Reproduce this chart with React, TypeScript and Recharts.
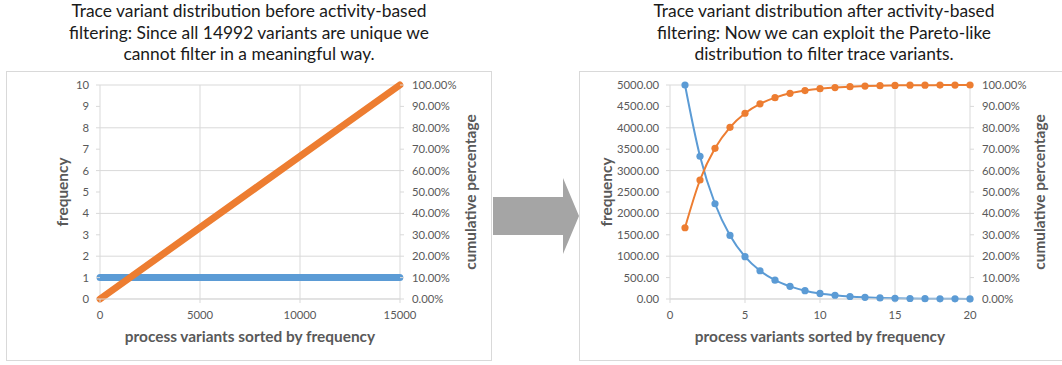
import { CartesianGrid, Label, Line, LineChart, XAxis, YAxis } from "recharts";

// Before filtering: every one of the 14992 variants occurs exactly once
const beforeRank = [1, 14992];
const beforeFrequency = [1, 1];
const beforeCumulative = [0.00007, 1.0];

// After activity-based filtering: top 20 variants
const afterRank = [1, 2, 3, 4, 5, 6, 7, 8, 9, 10, 11, 12, 13, 14, 15, 16, 17, 18, 19, 20];
const afterFrequency = [5000, 3335, 2225, 1485, 990, 660, 440, 295, 195, 130, 88, 58, 39, 26, 17, 12, 8, 5, 3, 2];
const afterCumulative = [
  0.333, 0.556, 0.704, 0.802, 0.868, 0.912, 0.941, 0.961, 0.974, 0.983,
  0.988, 0.992, 0.995, 0.997, 0.998, 0.999, 0.999, 0.9995, 0.9998, 1.0,
];

const beforeXTicks = [0, 5000, 10000, 15000];
const beforeYTicks = [0, 1, 2, 3, 4, 5, 6, 7, 8, 9, 10];
const afterXTicks = [0, 5, 10, 15, 20];
const afterYTicks = [0, 500, 1000, 1500, 2000, 2500, 3000, 3500, 4000, 4500, 5000];
const pctTicks = [0, 0.1, 0.2, 0.3, 0.4, 0.5, 0.6, 0.7, 0.8, 0.9, 1];

const beforeTitle = [
  "Trace variant distribution before activity-based",
  "filtering: Since all 14992 variants are unique we",
  "cannot filter in a meaningful way.",
];
const afterTitle = [
  "Trace variant distribution after activity-based",
  "filtering: Now we can exploit the Pareto-like",
  "distribution to filter trace variants.",
];

const BLUE = "#5b9bd5";
const ORANGE = "#ed7d31";
const GRID = "#d9d9d9";
const TEXT = "#595959";
const FONT = "Lato, 'Liberation Sans', sans-serif";

const tick = { fill: TEXT, fontSize: 11.3, fontFamily: FONT };
const axisTitle = { fill: TEXT, fontSize: 15.4, fontWeight: 700, fontFamily: FONT, textAnchor: "middle" as const };

const pct = (v: number) => `${(v * 100).toFixed(2)}%`;

type ChartProps = {
  left: number;
  width: number;
  leftAxisWidth: number;
  rightAxisWidth: number;
  freqLabelOffset: number;
  cumLabelOffset: number;
  title: string[];
  rank: number[];
  frequency: number[];
  cumulative: number[];
  xTicks: number[];
  yTicks: number[];
  yFormat?: (v: number) => string;
  dense: boolean;
};

const ParetoPanel = (p: ChartProps) => {
  const data = p.rank.map((r, i) => ({ rank: r, freq: p.frequency[i], cum: p.cumulative[i] }));
  const xMax = p.xTicks[p.xTicks.length - 1];
  const yMax = p.yTicks[p.yTicks.length - 1];
  const lineProps = p.dense
    ? { strokeWidth: 7, strokeLinecap: "round" as const, dot: false }
    : { strokeWidth: 2, type: "monotone" as const, dot: { r: 3.6, strokeWidth: 0 } };

  return (
    <>
      <div
        style={{
          position: "absolute",
          left: p.left,
          top: 0,
          width: p.width,
          textAlign: "center",
          fontSize: 17.4,
          lineHeight: "21.7px",
          color: "#1a1a1a",
          fontFamily: FONT,
        }}
      >
        {p.title.map((t) => (
          <div key={t}>{t}</div>
        ))}
      </div>
      <div
        style={{
          position: "absolute",
          left: p.left,
          top: 71,
          width: p.width,
          height: 290,
          border: `1px solid ${GRID}`,
          boxSizing: "border-box",
          background: "#fff",
        }}
      >
        <LineChart
          width={p.width - 2}
          height={288}
          data={data}
          margin={{ top: 13, right: 0, bottom: 0, left: 0 }}
        >
          <CartesianGrid stroke={GRID} yAxisId="freq" />
          <XAxis
            dataKey="rank"
            type="number"
            domain={[0, xMax]}
            ticks={p.xTicks}
            height={61}
            tick={tick}
            tickSize={4}
            tickMargin={8}
            stroke={GRID}
          >
            <Label value="process variants sorted by frequency" position="insideBottom" offset={18} style={axisTitle} />
          </XAxis>
          <YAxis
            yAxisId="freq"
            domain={[0, yMax]}
            ticks={p.yTicks}
            width={p.leftAxisWidth}
            tick={tick}
            tickSize={4}
            tickMargin={7}
            tickFormatter={p.yFormat}
            stroke={GRID}
            axisLine={false}
          >
            <Label value="frequency" angle={-90} position="insideLeft" offset={p.freqLabelOffset} style={axisTitle} />
          </YAxis>
          <YAxis
            yAxisId="cum"
            orientation="right"
            domain={[0, 1]}
            ticks={pctTicks}
            width={p.rightAxisWidth}
            tick={tick}
            tickSize={4}
            tickMargin={8}
            tickFormatter={pct}
            stroke={GRID}
            axisLine={false}
          >
            <Label value="cumulative percentage" angle={-90} position="insideRight" offset={p.cumLabelOffset} style={axisTitle} />
          </YAxis>
          <Line
            yAxisId="freq"
            dataKey="freq"
            stroke={BLUE}
            fill={BLUE}
            isAnimationActive={false}
            {...lineProps}
          />
          <Line
            yAxisId="cum"
            dataKey="cum"
            stroke={ORANGE}
            fill={ORANGE}
            isAnimationActive={false}
            {...lineProps}
          />
        </LineChart>
      </div>
    </>
  );
};

const App = () => (
  <div
    style={{
      position: "absolute",
      left: 0,
      top: 0,
      width: 1062,
      height: 365,
      background: "#fff",
      overflow: "hidden",
    }}
  >
    <ParetoPanel
      left={6}
      width={486}
      leftAxisWidth={93}
      rightAxisWidth={91}
      freqLabelOffset={56}
      cumLabelOffset={20}
      title={beforeTitle}
      rank={beforeRank}
      frequency={beforeFrequency}
      cumulative={beforeCumulative}
      xTicks={beforeXTicks}
      yTicks={beforeYTicks}
      dense
    />
    <svg style={{ position: "absolute", left: 0, top: 0 }} width={1062} height={365} pointerEvents="none">
      <polygon points="493,197 563,197 563,178 579,216 563,254 563,235 493,235" fill="#a5a5a5" />
    </svg>
    <ParetoPanel
      left={579}
      width={490}
      leftAxisWidth={90}
      rightAxisWidth={98}
      freqLabelOffset={27}
      cumLabelOffset={28}
      title={afterTitle}
      rank={afterRank}
      frequency={afterFrequency}
      cumulative={afterCumulative}
      xTicks={afterXTicks}
      yTicks={afterYTicks}
      yFormat={(v) => v.toFixed(2)}
      dense={false}
    />
  </div>
);

export default App;
